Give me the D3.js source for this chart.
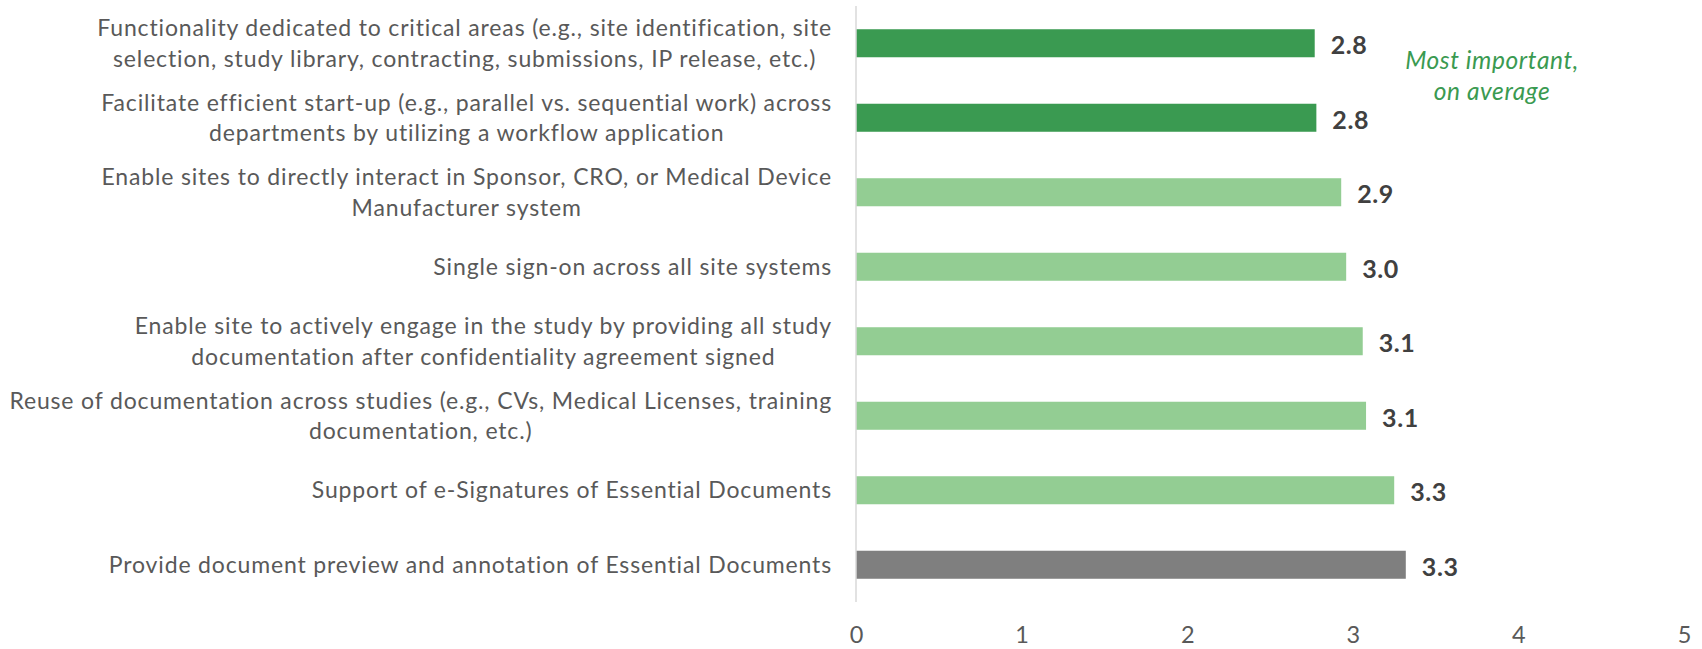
<!DOCTYPE html>
<html>
<head>
<meta charset="utf-8">
<script src="https://cdn.jsdelivr.net/npm/d3@7"></script>
<style>
  html, body { margin: 0; padding: 0; background: #ffffff; }
  svg { display: block; }
</style>
</head>
<body>
<svg id="chart" width="1702" height="649"></svg>
<script>
// ---- data ----
const categories = [
  ["Functionality dedicated to critical areas (e.g., site identification, site", "selection, study library, contracting, submissions, IP release, etc.)"],
  ["Facilitate efficient start-up (e.g., parallel vs. sequential work) across", "departments by utilizing a workflow application"],
  ["Enable sites to directly interact in Sponsor, CRO, or Medical Device", "Manufacturer system"],
  ["Single sign-on across all site systems"],
  ["Enable site to actively engage in the study by providing all study", "documentation after confidentiality agreement signed"],
  ["Reuse of documentation across studies (e.g., CVs, Medical Licenses, training", "documentation, etc.)"],
  ["Support of e-Signatures of Essential Documents"],
  ["Provide document preview and annotation of Essential Documents"]
];
const values = [2.77, 2.78, 2.93, 2.96, 3.06, 3.08, 3.25, 3.32];
const groups = ["top", "top", "mid", "mid", "mid", "mid", "mid", "other"];
const xTicks = [0, 1, 2, 3, 4, 5];
const annotation = ["Most important,", "on average"];

// ---- styles ----
const groupColor = { top: "#3a9a51", mid: "#93cd93", other: "#7f7f7f" };
const fontFamily = "Lato, 'Noto Sans', 'Liberation Sans', sans-serif";

const svg = d3.select("#chart");
const margin = { left: 856, right: 18, top: 6, bottom: 47 };
const W = 1702, H = 649;

const x = d3.scaleLinear().domain([0, 5]).range([margin.left, W - margin.right]);
const ids = categories.map((c, i) => i);
const y = d3.scaleBand().domain(ids).range([margin.top, H - margin.bottom])
  .paddingInner(0.624).paddingOuter(0.312);

// bars
svg.append("g").selectAll("rect").data(values).join("rect")
  .attr("x", x(0))
  .attr("y", (d, i) => y(i))
  .attr("width", d => x(d) - x(0))
  .attr("height", y.bandwidth())
  .attr("fill", (d, i) => groupColor[groups[i]]);

// vertical axis line
svg.append("line")
  .attr("x1", x(0)).attr("x2", x(0))
  .attr("y1", margin.top).attr("y2", H - margin.bottom)
  .attr("stroke", "#d9d9d9").attr("stroke-width", 1.5);

// x axis labels
const xAxis = d3.axisBottom(x).tickValues(xTicks).tickSize(0).tickPadding(0).tickFormat(d3.format("d"));
const gx = svg.append("g").attr("transform", `translate(0, ${H - margin.bottom})`).call(xAxis);
gx.select(".domain").remove();
gx.selectAll("text")
  .attr("dy", null)
  .attr("y", 41)
  .attr("fill", "#595959")
  .style("font-family", fontFamily)
  .style("font-size", "23.5px");

// value labels
svg.append("g").selectAll("text").data(values).join("text")
  .attr("x", d => x(d) + 16)
  .attr("y", (d, i) => y(i) + y.bandwidth() / 2 + 2)
  .attr("dy", "0.35em")
  .attr("fill", "#404040")
  .style("font-family", fontFamily)
  .style("font-weight", "bold")
  .style("font-size", "25px")
  .style("letter-spacing", "0.6px")
  .text(d => d3.format(".1f")(d));

// category labels: lines centered within block, block right-aligned
const labelRight = x(0) - 24;
const lineH = 30.5;
const gl = svg.append("g")
  .style("font-family", fontFamily)
  .style("font-size", "23px")
  .style("letter-spacing", "0.85px")
  .attr("fill", "#595959");
categories.forEach((lines, i) => {
  const g = gl.append("g");
  const cy = y(i) + y.bandwidth() / 2;
  const texts = lines.map((ln, k) => g.append("text")
    .attr("y", cy + (k - (lines.length - 1) / 2) * lineH)
    .attr("dy", "0.35em")
    .attr("text-anchor", "middle")
    .text(ln));
  const maxW = d3.max(texts, t => t.node().getComputedTextLength());
  texts.forEach(t => t.attr("x", labelRight - maxW / 2));
});

// annotation
const ann = svg.append("g")
  .style("font-family", fontFamily)
  .style("font-style", "italic")
  .style("font-size", "24.5px")
  .style("letter-spacing", "0.6px")
  .attr("fill", "#3a9a51");
annotation.forEach((t, k) => ann.append("text")
  .attr("x", 1492).attr("y", 69 + k * 31)
  .attr("text-anchor", "middle")
  .text(t));
</script>
</body>
</html>
